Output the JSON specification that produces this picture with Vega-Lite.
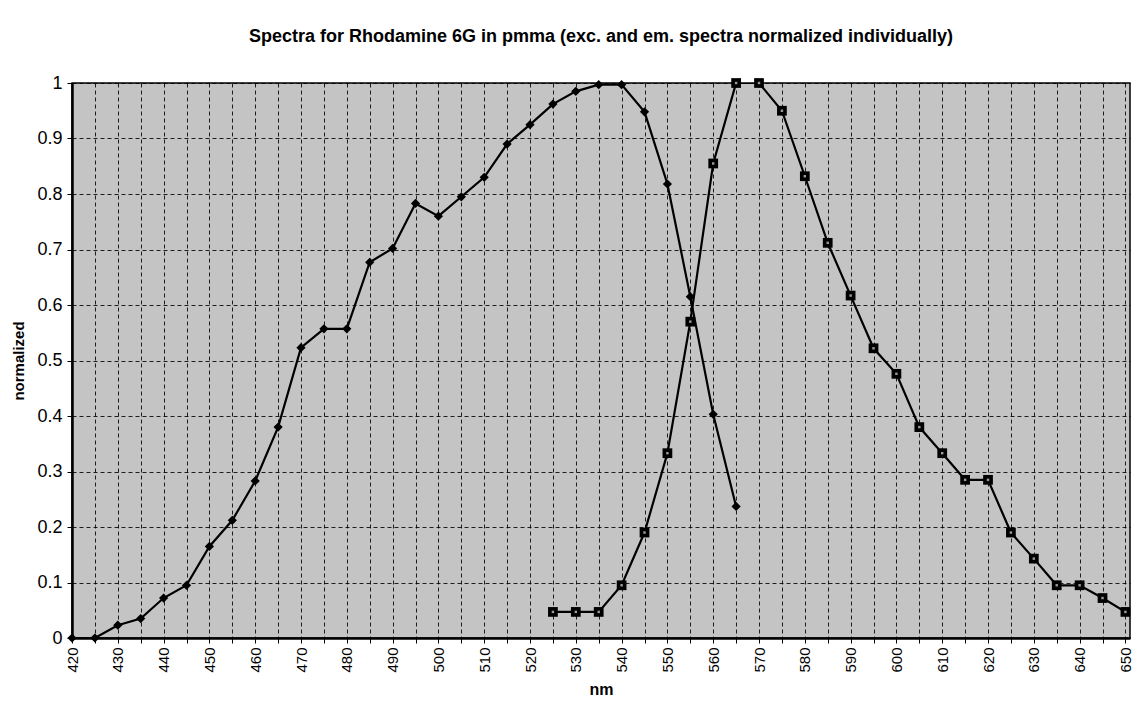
{
  "$schema": "https://vega.github.io/schema/vega-lite/v6.json",
  "autosize": "none",
  "width": 1058,
  "height": 555,
  "padding": {"left": 72, "top": 83, "right": 11, "bottom": 66},
  "background": "white",
  "title": {
    "text": "Spectra for Rhodamine 6G in pmma (exc. and em. spectra normalized individually)",
    "font": "Liberation Sans",
    "fontSize": 18,
    "fontWeight": "bold",
    "color": "black",
    "anchor": "middle",
    "offset": 28
  },
  "config": {
    "view": {"fill": "#c4c4c4", "stroke": "black", "strokeWidth": 1.5},
    "axis": {
      "labelFont": "Liberation Sans",
      "labelColor": "black",
      "titleFont": "Liberation Sans",
      "titleFontWeight": "bold",
      "titleColor": "black",
      "domainColor": "black",
      "domainWidth": 2.5,
      "tickColor": "black",
      "tickWidth": 1,
      "tickSize": 5,
      "gridColor": "black",
      "gridDash": [4, 3],
      "gridWidth": 1,
      "gridOpacity": 0.85
    }
  },
  "data": {
    "values": [
      {"nm": 420, "value": 0, "series": "exc"},
      {"nm": 425, "value": 0, "series": "exc"},
      {"nm": 430, "value": 0.023, "series": "exc"},
      {"nm": 435, "value": 0.035, "series": "exc"},
      {"nm": 440, "value": 0.072, "series": "exc"},
      {"nm": 445, "value": 0.095, "series": "exc"},
      {"nm": 450, "value": 0.165, "series": "exc"},
      {"nm": 455, "value": 0.212, "series": "exc"},
      {"nm": 460, "value": 0.283, "series": "exc"},
      {"nm": 465, "value": 0.38, "series": "exc"},
      {"nm": 470, "value": 0.523, "series": "exc"},
      {"nm": 475, "value": 0.557, "series": "exc"},
      {"nm": 480, "value": 0.557, "series": "exc"},
      {"nm": 485, "value": 0.677, "series": "exc"},
      {"nm": 490, "value": 0.702, "series": "exc"},
      {"nm": 495, "value": 0.783, "series": "exc"},
      {"nm": 500, "value": 0.76, "series": "exc"},
      {"nm": 505, "value": 0.795, "series": "exc"},
      {"nm": 510, "value": 0.83, "series": "exc"},
      {"nm": 515, "value": 0.89, "series": "exc"},
      {"nm": 520, "value": 0.925, "series": "exc"},
      {"nm": 525, "value": 0.962, "series": "exc"},
      {"nm": 530, "value": 0.985, "series": "exc"},
      {"nm": 535, "value": 0.997, "series": "exc"},
      {"nm": 540, "value": 0.997, "series": "exc"},
      {"nm": 545, "value": 0.948, "series": "exc"},
      {"nm": 550, "value": 0.818, "series": "exc"},
      {"nm": 555, "value": 0.615, "series": "exc"},
      {"nm": 560, "value": 0.403, "series": "exc"},
      {"nm": 565, "value": 0.237, "series": "exc"},
      {"nm": 525, "value": 0.047, "series": "em"},
      {"nm": 530, "value": 0.047, "series": "em"},
      {"nm": 535, "value": 0.047, "series": "em"},
      {"nm": 540, "value": 0.095, "series": "em"},
      {"nm": 545, "value": 0.19, "series": "em"},
      {"nm": 550, "value": 0.333, "series": "em"},
      {"nm": 555, "value": 0.57, "series": "em"},
      {"nm": 560, "value": 0.855, "series": "em"},
      {"nm": 565, "value": 1.0, "series": "em"},
      {"nm": 570, "value": 1.0, "series": "em"},
      {"nm": 575, "value": 0.95, "series": "em"},
      {"nm": 580, "value": 0.832, "series": "em"},
      {"nm": 585, "value": 0.712, "series": "em"},
      {"nm": 590, "value": 0.617, "series": "em"},
      {"nm": 595, "value": 0.522, "series": "em"},
      {"nm": 600, "value": 0.476, "series": "em"},
      {"nm": 605, "value": 0.38, "series": "em"},
      {"nm": 610, "value": 0.333, "series": "em"},
      {"nm": 615, "value": 0.285, "series": "em"},
      {"nm": 620, "value": 0.285, "series": "em"},
      {"nm": 625, "value": 0.19, "series": "em"},
      {"nm": 630, "value": 0.143, "series": "em"},
      {"nm": 635, "value": 0.095, "series": "em"},
      {"nm": 640, "value": 0.095, "series": "em"},
      {"nm": 645, "value": 0.072, "series": "em"},
      {"nm": 650, "value": 0.047, "series": "em"},
      {"nm": 655, "value": 0.047, "series": "em"}
    ]
  },
  "encoding": {
    "x": {
      "field": "nm",
      "type": "quantitative",
      "scale": {"domain": [420, 651], "nice": false, "zero": false},
      "axis": {
        "title": "nm",
        "titleFontSize": 16,
        "labelFontSize": 15,
        "values": [420,425,430,435,440,445,450,455,460,465,470,475,480,485,490,495,500,505,510,515,520,525,530,535,540,545,550,555,560,565,570,575,580,585,590,595,600,605,610,615,620,625,630,635,640,645,650],
        "labelExpr": "datum.value % 10 == 0 ? datum.label : ''",
        "format": "d",
        "labelAngle": -90,
        "labelAlign": "right",
        "labelBaseline": "middle",
        "labelPadding": 4,
        "labelOverlap": false,
        "titlePadding": 9
      }
    },
    "y": {
      "field": "value",
      "type": "quantitative",
      "scale": {"domain": [0, 1], "nice": false},
      "axis": {
        "title": "normalized",
        "titleFontSize": 15,
        "labelFontSize": 18,
        "values": [0, 0.1, 0.2, 0.3, 0.4, 0.5, 0.6, 0.7, 0.8, 0.9, 1],
        "format": "~g",
        "labelPadding": 5,
        "titlePadding": 10
      }
    },
    "detail": {"field": "series"}
  },
  "layer": [
    {
      "mark": {"type": "line", "color": "black", "strokeWidth": 2.2, "clip": true}
    },
    {
      "transform": [{"filter": "datum.nm <= 650"}],
      "mark": {"type": "point", "filled": true, "clip": false, "opacity": 1},
      "encoding": {
        "shape": {
          "field": "series",
          "type": "nominal",
          "scale": {"domain": ["exc", "em"], "range": ["diamond", "square"]},
          "legend": null
        },
        "size": {
          "field": "series",
          "type": "nominal",
          "scale": {"domain": ["exc", "em"], "range": [85, 95]},
          "legend": null
        },
        "color": {"value": "black"}
      }
    },
    {
      "transform": [{"filter": "datum.series == 'em' && datum.nm <= 650"}],
      "mark": {"type": "square", "filled": true, "clip": false, "opacity": 1, "size": 6, "color": "#9a9a9a"}
    }
  ]
}
